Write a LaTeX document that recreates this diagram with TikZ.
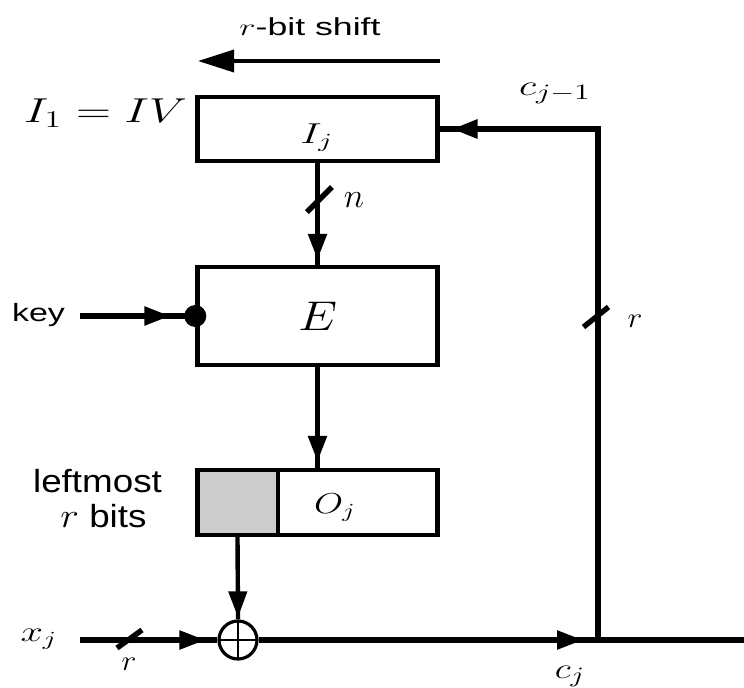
\documentclass[tikz,border=0pt]{standalone}
\usepackage{fontspec}
\setsansfont{Liberation Sans}
\usepackage{graphicx}
\usetikzlibrary{arrows.meta,decorations.markings,calc}
\newcommand\hstretch[2]{\scalebox{#1}[1]{#2}}
\newcommand\fsz[1]{\fontsize{#1}{#1}\selectfont}
\definecolor{shade}{gray}{0.8}
\begin{document}
\begin{tikzpicture}[x=0.5pt,y=-0.5pt,
  box/.style={draw, line width=2.2pt, minimum width=120pt, inner sep=0pt},
  wire/.style={line width=2.7pt},
  tipat/.style={postaction={decorate}, decoration={markings,
      mark=at position #1 with {\arrow{Triangle[length=13pt,width=9pt]}}}},
  slashmark/.style={line width=2.7pt},
  lbl/.style={inner sep=0pt, anchor=base},
]
\useasboundingbox (0,0) rectangle (744,687);

% boxes
\node[box, minimum height=32pt] (Ij) at (317.5,129) {};
\node[lbl] (Ijlbl) at (317,143) {\fsz{14.5pt}\hstretch{1.45}{$I_j$}};
\node[box, minimum height=49pt] (E) at (317.5,316) {\fsz{20pt}\hstretch{1.2}{$E$}};
\node[draw, line width=2.2pt, fill=shade, minimum width=40.5pt, minimum height=32.5pt, inner sep=0pt] (Og) at (237.5,502.5) {};
\node[box, minimum height=32.5pt] (O) at (317.5,502.5) {};
\node[lbl] (Ojlbl) at (335,513) {\fsz{14pt}\hstretch{1.3}{$O_j$}};
\node[draw, circle, line width=1.6pt, minimum size=19pt, inner sep=0pt,
  path picture={\draw[line width=1pt] (path picture bounding box.north) -- (path picture bounding box.south)
     (path picture bounding box.west) -- (path picture bounding box.east);}] (xor) at (238,640) {};

% coordinates
\coordinate (xin) at (80,640);
\coordinate (J) at (598,640);
\coordinate (xend) at (744,640);
\coordinate (K) at (J |- Ij.east);
\path (E.west) ++(-115,0) coordinate (keyin);
\coordinate (sh1) at (440,61);
\coordinate (sh2) at (198,61);
\coordinate (s1) at (319.5,199.5);
\coordinate (s2) at (596,317);
\coordinate (s3) at (129.5,639);

% labels
\node[lbl] (shiftlbl) at (310,35) {\fsz{12.3pt}\hstretch{1.45}{\sffamily $r$-bit shift}};
\node[lbl] (keylbl) at (38.5,321) {\fsz{12.5pt}\hstretch{1.36}{\sffamily key}};
\node[lbl] (lm1) at (97.5,492) {\fsz{16pt}\hstretch{1.15}{\sffamily leftmost}};
\node[lbl] (lm2) at (103.5,527) {\fsz{16pt}\hstretch{1.15}{\sffamily $r$ bits}};
\node[lbl] (ivlbl) at (105.5,122) {\fsz{17.5pt}\hstretch{1.4}{$I_1=IV$}};
\node[lbl] (nlbl) at (354,207) {\fsz{16pt}$n$};
\node[lbl] (rlbl1) at (635,327) {\fsz{15pt}\hstretch{1.1}{$r$}};
\node[lbl] (rlbl2) at (129,670) {\fsz{15pt}\hstretch{1.1}{$r$}};
\node[lbl] (cj1lbl) at (555,95) {\fsz{15pt}\hstretch{1.4}{$c_{j-1}$}};
\node[lbl] (cjlbl) at (570,678) {\fsz{15pt}\hstretch{1.3}{$c_j$}};
\node[lbl] (xjlbl) at (39,641) {\fsz{14pt}\hstretch{1.4}{$x_j$}};

% shift arrow
\draw[line width=1.8pt, -{Triangle[length=18pt,width=11pt]}] (sh1) -- (sh2);

% connectors
\draw[wire, tipat=-2.5pt] (Ij.south) -- (E.north);
\draw[wire, tipat=-3pt] (E.south) -- (O.north);
\draw[wire, tipat=-12.5pt] (keyin) -- (E.west);
\fill (E.west) circle (5.5pt);
\draw[line width=2.2pt, tipat=-1pt] (Og.south) -- (xor.north);
\draw[wire, tipat=-6pt] (xin) -- (xor.west);
\draw[wire, tipat=-7.5pt] (xor.east) -- (J);
\draw[wire] (J) -- (xend);
\draw[line width=3pt, tipat=-6pt] (J) -- (K) -- (Ij.east);

% width slashes
\draw[slashmark] ($(s1)+(-12.5,12.5)$) -- ($(s1)+(12.5,-12.5)$);
\draw[slashmark] ($(s2)+(-12.5,10)$) -- ($(s2)+(12.5,-10)$);
\draw[slashmark] ($(s3)+(-12.5,9)$) -- ($(s3)+(12.5,-9)$);
\end{tikzpicture}
\end{document}
